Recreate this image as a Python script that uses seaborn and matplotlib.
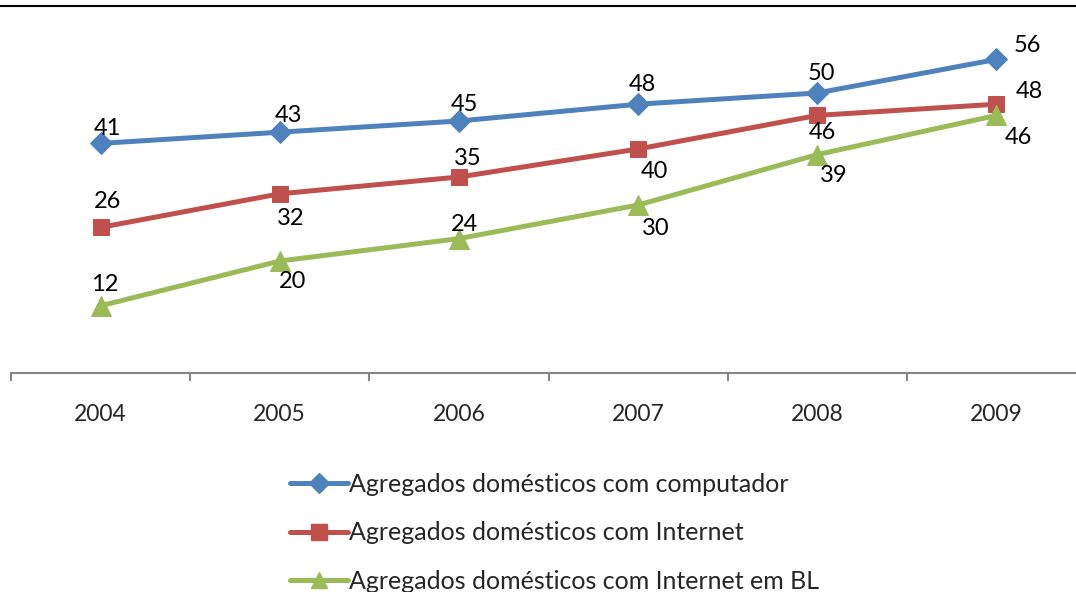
import matplotlib
matplotlib.use("Agg")
import matplotlib.pyplot as plt
import seaborn as sns
import pandas as pd
from matplotlib.lines import Line2D

years = ["2004", "2005", "2006", "2007", "2008", "2009"]
computador = [41, 43, 45, 48, 50, 56]
internet = [26, 32, 35, 40, 46, 48]
internet_bl = [12, 20, 24, 30, 39, 46]
labels_computador = ["41", "43", "45", "48", "50", "56"]
labels_internet = ["26", "32", "35", "40", "46", "48"]
labels_bl = ["12", "20", "24", "30", "39", "46"]
names = ["Agregados domésticos com computador",
         "Agregados domésticos com Internet",
         "Agregados domésticos com Internet em BL"]

sns.set_style("white")
plt.rcParams['font.family'] = ['Lato', 'DejaVu Sans']

W, H = 1076, 592
fig = plt.figure(figsize=(W / 100, H / 100), dpi=100)
ax = fig.add_axes([11 / W, (H - 373) / H, 1075 / W, 336 / H])

colors = ["#4F81BD", "#C0504D", "#9BBB59"]
markers = ["D", "s", "^"]
msizes = [11, 12, 14]
series = [computador, internet, internet_bl]
lbls = [labels_computador, labels_internet, labels_bl]
# label offsets (points)
offs = [
    [(5, 11), (6, 12), (4, 12), (3, 14), (3, 14), (22, 10)],
    [(5, 19), (8, -18), (6, 13), (12, -16), (4, -12), (24, 9)],
    [(3, 15), (9, -15), (4, 10), (13, -17), (12, -15), (16, -16)],
]

xpos = list(range(len(years)))
for vals, c, m, ms, name in zip(series, colors, markers, msizes, names):
    df = pd.DataFrame({"x": xpos, "y": vals})
    sns.lineplot(data=df, x="x", y="y", ax=ax, color=c, marker=m,
                 markersize=ms, markeredgecolor=c, linewidth=3.6, label=name,
                 legend=False)

for vals, lab, off in zip(series, lbls, offs):
    for x, v, t, o in zip(xpos, vals, lab, off):
        ax.annotate(t, (x, v), xytext=o, textcoords="offset points",
                    ha="center", va="center", fontsize=17, color="black")

ax.set_xlim(-0.5, 5.5)
ax.set_ylim(0, 60)
ax.set_yticks([])
ax.set_xlabel("")
ax.set_ylabel("")
for s in ["top", "right", "left"]:
    ax.spines[s].set_visible(False)
ax.spines["bottom"].set_color("#868686")
ax.spines["bottom"].set_linewidth(1.5)
ax.set_xticks(xpos)
ax.set_xticklabels(years, fontsize=16.5)
ax.set_xticks([i - 0.5 for i in range(len(years) + 1)], minor=True)
ax.tick_params(axis="x", which="major", length=0, pad=22)
ax.tick_params(axis="x", which="minor", length=6, width=1.5, color="#868686",
               direction="out", bottom=True)

handles = [Line2D([], [], color=c, marker=m, markersize=s, linewidth=3.6,
                  markeredgecolor=c) for c, m, s in zip(colors, markers, [10, 11, 12])]
fig.legend(handles, names, loc="upper left",
           bbox_to_anchor=(290 / W, 1 - 473 / H), frameon=False,
           fontsize=18, handlelength=2.3, handletextpad=0.05,
           labelspacing=1.02, borderaxespad=0, borderpad=0)

fig.add_artist(Line2D([0, 1], [1 - 6 / H, 1 - 6 / H], color="black",
                      linewidth=1.5, transform=fig.transFigure))

fig.savefig("out.png", dpi=100)
